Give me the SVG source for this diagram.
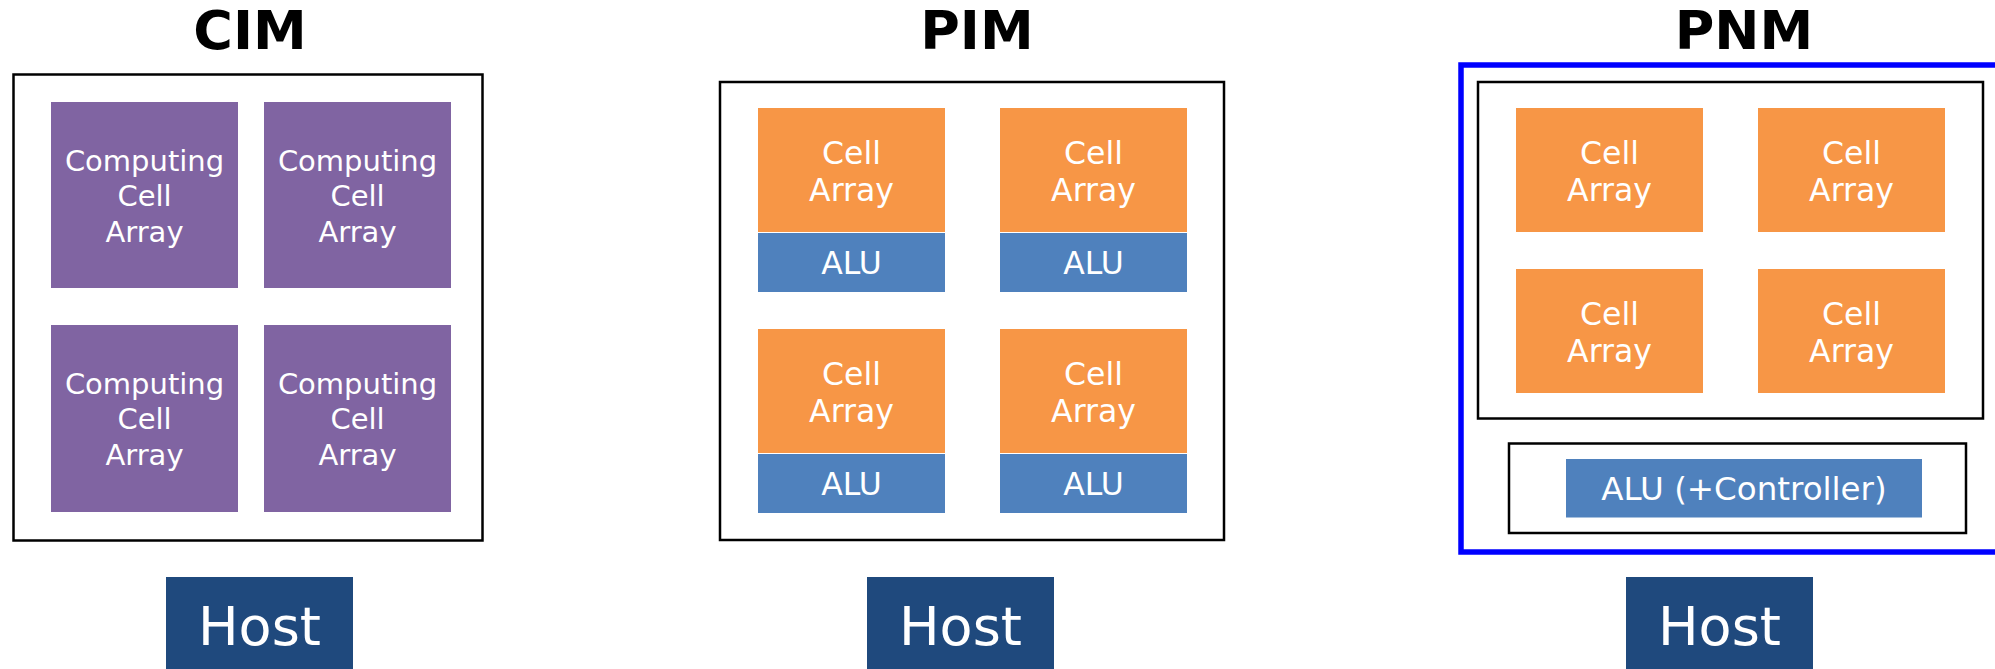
<svg xmlns="http://www.w3.org/2000/svg" width="1995" height="669" viewBox="0 0 1995 669">
  <style>
    .title { font-family: "DejaVu Sans", Verdana, sans-serif; font-weight: bold; font-size: 54px; fill: #000; text-anchor: middle; }
    .lbl { font-family: "DejaVu Sans", Verdana, sans-serif; fill: #fff; text-anchor: middle; }
    .cim { font-size: 29px; }
    .cell { font-size: 31.5px; }
    .ctrl { font-size: 32.5px; }
    .host-t { font-size: 54px; }
    .frame { fill: none; stroke: #000; stroke-width: 2.5; }
    .purple { fill: #8064A2; }
    .orange { fill: #F79646; }
    .alu { fill: #4F81BD; }
    .host { fill: #1F497D; }
    .sep { stroke: #fff; stroke-width: 1.2; }
  </style>

  <!-- ===== CIM ===== -->
  <g id="cim">
    <text class="title" x="250" y="49">CIM</text>
    <rect class="frame" x="13.5" y="74.5" width="469" height="466"/>
    <g id="cim-array-1">
      <rect class="purple" x="51" y="102" width="187" height="186"/>
      <text class="lbl cim" x="144.5" y="171">Computing</text>
      <text class="lbl cim" x="144.5" y="206">Cell</text>
      <text class="lbl cim" x="144.5" y="241.5">Array</text>
    </g>
    <g id="cim-array-2">
      <rect class="purple" x="264" y="102" width="187" height="186"/>
      <text class="lbl cim" x="357.5" y="171">Computing</text>
      <text class="lbl cim" x="357.5" y="206">Cell</text>
      <text class="lbl cim" x="357.5" y="241.5">Array</text>
    </g>
    <g id="cim-array-3">
      <rect class="purple" x="51" y="325" width="187" height="187"/>
      <text class="lbl cim" x="144.5" y="394">Computing</text>
      <text class="lbl cim" x="144.5" y="429">Cell</text>
      <text class="lbl cim" x="144.5" y="464.5">Array</text>
    </g>
    <g id="cim-array-4">
      <rect class="purple" x="264" y="325" width="187" height="187"/>
      <text class="lbl cim" x="357.5" y="394">Computing</text>
      <text class="lbl cim" x="357.5" y="429">Cell</text>
      <text class="lbl cim" x="357.5" y="464.5">Array</text>
    </g>
    <g id="cim-host">
      <rect class="host" x="166" y="577" width="187" height="92"/>
      <text class="lbl host-t" x="259.5" y="645">Host</text>
    </g>
  </g>

  <!-- ===== PIM ===== -->
  <g id="pim">
    <text class="title" x="977" y="49">PIM</text>
    <rect class="frame" x="720" y="82" width="504" height="458"/>
    <g id="pim-unit-1">
      <rect class="orange" x="758" y="108" width="187" height="124"/>
      <rect class="alu" x="758" y="232" width="187" height="60"/>
      <line class="sep" x1="758" y1="232.5" x2="945" y2="232.5"/>
      <text class="lbl cell" x="851.5" y="164">Cell</text>
      <text class="lbl cell" x="851.5" y="200.5">Array</text>
      <text class="lbl cell" x="851.5" y="274">ALU</text>
    </g>
    <g id="pim-unit-2">
      <rect class="orange" x="1000" y="108" width="187" height="124"/>
      <rect class="alu" x="1000" y="232" width="187" height="60"/>
      <line class="sep" x1="1000" y1="232.5" x2="1187" y2="232.5"/>
      <text class="lbl cell" x="1093.5" y="164">Cell</text>
      <text class="lbl cell" x="1093.5" y="200.5">Array</text>
      <text class="lbl cell" x="1093.5" y="274">ALU</text>
    </g>
    <g id="pim-unit-3">
      <rect class="orange" x="758" y="329" width="187" height="124"/>
      <rect class="alu" x="758" y="453" width="187" height="60"/>
      <line class="sep" x1="758" y1="453.5" x2="945" y2="453.5"/>
      <text class="lbl cell" x="851.5" y="385">Cell</text>
      <text class="lbl cell" x="851.5" y="421.5">Array</text>
      <text class="lbl cell" x="851.5" y="495">ALU</text>
    </g>
    <g id="pim-unit-4">
      <rect class="orange" x="1000" y="329" width="187" height="124"/>
      <rect class="alu" x="1000" y="453" width="187" height="60"/>
      <line class="sep" x1="1000" y1="453.5" x2="1187" y2="453.5"/>
      <text class="lbl cell" x="1093.5" y="385">Cell</text>
      <text class="lbl cell" x="1093.5" y="421.5">Array</text>
      <text class="lbl cell" x="1093.5" y="495">ALU</text>
    </g>
    <g id="pim-host">
      <rect class="host" x="867" y="577" width="187" height="92"/>
      <text class="lbl host-t" x="960.5" y="645">Host</text>
    </g>
  </g>

  <!-- ===== PNM ===== -->
  <g id="pnm">
    <text class="title" x="1744" y="49">PNM</text>
    <rect id="pnm-module" x="1461" y="65" width="560" height="487" fill="none" stroke="#0000FF" stroke-width="5.5"/>
    <rect class="frame" x="1478" y="82" width="505" height="336.5"/>
    <g id="pnm-array-1">
      <rect class="orange" x="1516" y="108" width="187" height="124"/>
      <text class="lbl cell" x="1609.5" y="164">Cell</text>
      <text class="lbl cell" x="1609.5" y="200.5">Array</text>
    </g>
    <g id="pnm-array-2">
      <rect class="orange" x="1758" y="108" width="187" height="124"/>
      <text class="lbl cell" x="1851.5" y="164">Cell</text>
      <text class="lbl cell" x="1851.5" y="200.5">Array</text>
    </g>
    <g id="pnm-array-3">
      <rect class="orange" x="1516" y="269" width="187" height="124"/>
      <text class="lbl cell" x="1609.5" y="325">Cell</text>
      <text class="lbl cell" x="1609.5" y="361.5">Array</text>
    </g>
    <g id="pnm-array-4">
      <rect class="orange" x="1758" y="269" width="187" height="124"/>
      <text class="lbl cell" x="1851.5" y="325">Cell</text>
      <text class="lbl cell" x="1851.5" y="361.5">Array</text>
    </g>
    <g id="pnm-alu">
      <rect class="frame" x="1509" y="443.5" width="457" height="89.5"/>
      <rect class="alu" x="1566" y="459" width="356" height="58.5"/>
      <text class="lbl ctrl" x="1744" y="500">ALU (+Controller)</text>
    </g>
    <g id="pnm-host">
      <rect class="host" x="1626" y="577" width="187" height="92"/>
      <text class="lbl host-t" x="1719.5" y="645">Host</text>
    </g>
  </g>

  <!-- no connectors are drawn between the blocks -->
  <g id="connectors"/>
</svg>
